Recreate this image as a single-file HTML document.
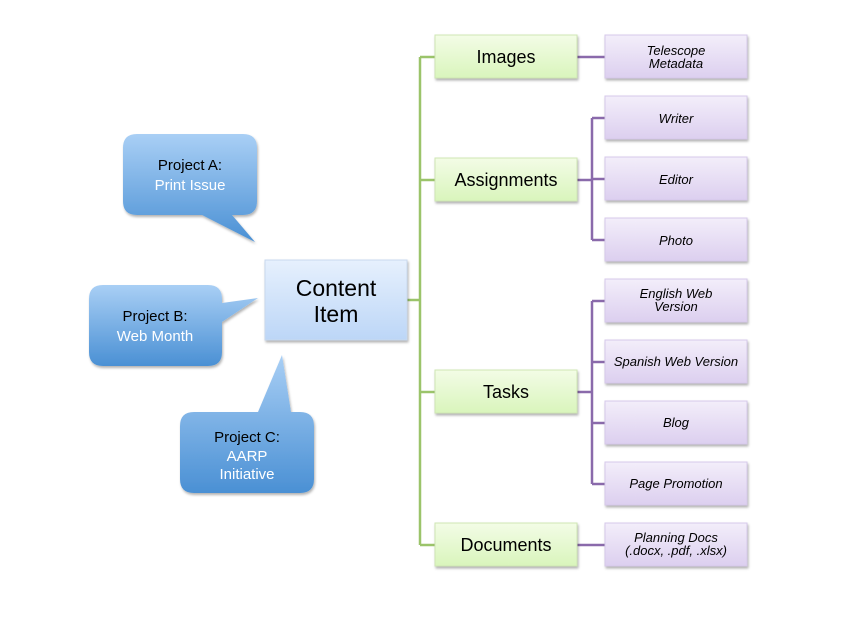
<!DOCTYPE html>
<html><head><style>body{margin:0;background:#fff}svg{display:block}text{font-family:"Liberation Sans",sans-serif}</style></head><body>
<svg width="848" height="625" viewBox="0 0 848 625" xmlns="http://www.w3.org/2000/svg">
<defs>
<linearGradient id="bl" x1="0" y1="0" x2="0" y2="1"><stop offset="0" stop-color="#a9cff5"/><stop offset="1" stop-color="#4a90d4"/></linearGradient>
<linearGradient id="ci" x1="0" y1="0" x2="0" y2="1"><stop offset="0" stop-color="#e6f0fd"/><stop offset="1" stop-color="#bcd6f7"/></linearGradient>
<linearGradient id="gr" x1="0" y1="0" x2="0" y2="1"><stop offset="0" stop-color="#f3fce6"/><stop offset="1" stop-color="#d9f5bc"/></linearGradient>
<linearGradient id="pu" x1="0" y1="0" x2="0" y2="1"><stop offset="0" stop-color="#f3eefa"/><stop offset="1" stop-color="#dccfef"/></linearGradient>
<filter id="sh" x="-10%" y="-10%" width="130%" height="140%"><feDropShadow dx="1" dy="2" stdDeviation="1.2" flood-color="#000" flood-opacity="0.3"/></filter>
</defs>
<!-- bubbles -->
<g filter="url(#sh)">
<path d="M137,134 H243 Q257,134 257,148 V201 Q257,215 243,215 H232 L255,242 L202,215 H137 Q123,215 123,201 V148 Q123,134 137,134 Z" fill="url(#bl)"/>
<path d="M103,285 H208 Q222,285 222,299 V303 L258,298 L222,322 V352 Q222,366 208,366 H103 Q89,366 89,352 V299 Q89,285 103,285 Z" fill="url(#bl)"/>
<path d="M194,412 H258 L282,355 L291,412 H300 Q314,412 314,426 V479 Q314,493 300,493 H194 Q180,493 180,479 V426 Q180,412 194,412 Z" fill="url(#bl)"/>
</g>
<g font-size="15" text-anchor="middle">
<text x="190" y="170" fill="#000">Project A:</text><text x="190" y="190" fill="#fff">Print Issue</text>
<text x="155" y="321" fill="#000">Project B:</text><text x="155" y="341" fill="#fff">Web Month</text>
<text x="247" y="442" fill="#000">Project C:</text><text x="247" y="461" fill="#fff">AARP</text><text x="247" y="479" fill="#fff">Initiative</text>
</g>
<!-- connectors -->
<g fill="none" stroke="#9bc46a" stroke-width="2.5">
<path d="M407,300 H420 M420,57 V545 M420,57 H435 M420,180 H435 M420,392 H435 M420,545 H435"/>
</g>
<g fill="none" stroke="#8a6aab" stroke-width="2.5">
<path d="M577,57 H605 M577,180 H592 M592,118 V240 M592,118 H605 M592,179 H605 M592,240 H605 M577,392 H592 M592,301 V484 M592,301 H605 M592,362 H605 M592,423 H605 M592,484 H605 M577,545 H605"/>
</g>
<!-- content item -->
<rect x="265" y="260" width="142" height="80" fill="url(#ci)" stroke="#c9d9ee" filter="url(#sh)"/>
<text x="336" y="296" font-size="23" text-anchor="middle">Content</text>
<text x="336" y="322" font-size="23" text-anchor="middle">Item</text>
<!-- green boxes -->
<g filter="url(#sh)" fill="url(#gr)" stroke="#cfe6b4">
<rect x="435" y="35" width="142" height="43"/><rect x="435" y="158" width="142" height="43"/><rect x="435" y="370" width="142" height="43"/><rect x="435" y="523" width="142" height="43"/>
</g>
<g font-size="18" text-anchor="middle">
<text x="506" y="63">Images</text><text x="506" y="186">Assignments</text><text x="506" y="398">Tasks</text><text x="506" y="551">Documents</text>
</g>
<!-- purple boxes -->
<g filter="url(#sh)" fill="url(#pu)" stroke="#d6c9ea">
<rect x="605" y="35" width="142" height="43"/><rect x="605" y="96" width="142" height="43"/><rect x="605" y="157" width="142" height="43"/><rect x="605" y="218" width="142" height="43"/>
<rect x="605" y="279" width="142" height="43"/><rect x="605" y="340" width="142" height="43"/><rect x="605" y="401" width="142" height="43"/><rect x="605" y="462" width="142" height="43"/><rect x="605" y="523" width="142" height="43"/>
</g>
<g font-size="13" font-style="italic" text-anchor="middle">
<text x="676" y="55">Telescope</text><text x="676" y="68">Metadata</text>
<text x="676" y="123">Writer</text><text x="676" y="184">Editor</text><text x="676" y="245">Photo</text>
<text x="676" y="298">English Web</text><text x="676" y="311">Version</text>
<text x="676" y="366">Spanish Web Version</text><text x="676" y="427">Blog</text><text x="676" y="488">Page Promotion</text>
<text x="676" y="542">Planning Docs</text><text x="676" y="555">(.docx, .pdf, .xlsx)</text>
</g>
</svg>
</body></html>
